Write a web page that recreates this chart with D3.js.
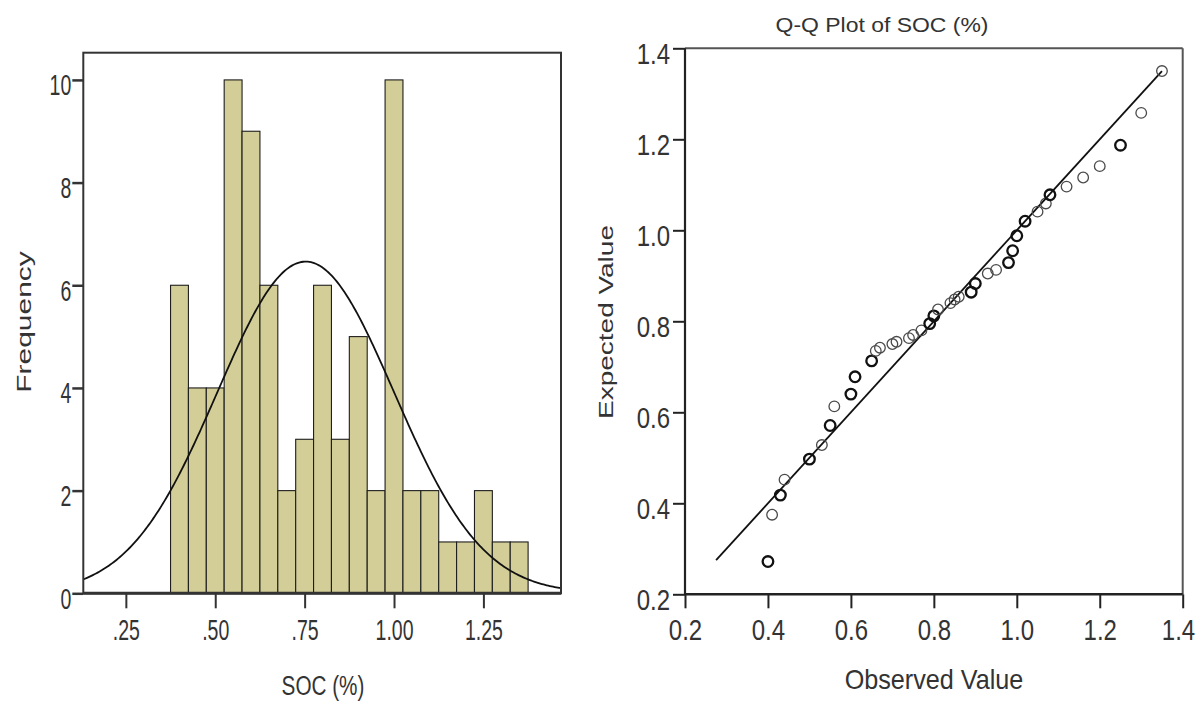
<!DOCTYPE html>
<html>
<head>
<meta charset="utf-8">
<script src="https://cdn.jsdelivr.net/npm/d3@7"></script>
<style>
  html, body { margin: 0; padding: 0; background: #fff; }
  svg { display: block; font-family: "Liberation Sans", Arial, sans-serif; }
</style>
</head>
<body>
<svg id="chart" width="1196" height="702"></svg>
<script>
// ---- Histogram of SOC (%) ----
const binLower = [0.375, 0.425, 0.475, 0.525, 0.575, 0.625, 0.675, 0.725, 0.775, 0.825,
                  0.875, 0.925, 0.975, 1.025, 1.075, 1.125, 1.175, 1.225, 1.275, 1.325];
const binWidth = 0.05;
const binCounts = [6, 4, 4, 10, 9, 6, 2, 3, 6, 3, 5, 2, 10, 2, 2, 1, 1, 2, 1, 1];
const socMean = 0.753;
const socSD = 0.247;
const histXTicks = [0.25, 0.5, 0.75, 1.0, 1.25];
const histXTickLabels = [".25", ".50", ".75", "1.00", "1.25"];
const histYTicks = [0, 2, 4, 6, 8, 10];

// ---- Normal Q-Q plot of SOC (%) ----
const observed = [0.40, 0.41, 0.43, 0.44, 0.50, 0.53, 0.55, 0.56, 0.60, 0.61,
                  0.65, 0.66, 0.67, 0.70, 0.71, 0.74, 0.75, 0.77, 0.79, 0.80,
                  0.81, 0.84, 0.85, 0.86, 0.89, 0.90, 0.93, 0.95, 0.98, 0.99,
                  1.00, 1.02, 1.05, 1.07, 1.08, 1.12, 1.16, 1.20, 1.25, 1.30, 1.35];
const expected = [0.272, 0.375, 0.418, 0.452, 0.497, 0.528, 0.571, 0.613, 0.640, 0.678,
                  0.713, 0.735, 0.742, 0.750, 0.755, 0.763, 0.770, 0.780, 0.795, 0.812,
                  0.826, 0.840, 0.848, 0.854, 0.864, 0.883, 0.905, 0.913, 0.929, 0.955,
                  0.988, 1.020, 1.041, 1.059, 1.078, 1.096, 1.116, 1.141, 1.187, 1.258, 1.350];
const tieCounts = [2, 1, 2, 1, 3, 1, 4, 1, 2, 3,
                   2, 1, 1, 1, 1, 1, 1, 1, 2, 2,
                   1, 1, 1, 1, 2, 3, 1, 1, 2, 2,
                   4, 2, 1, 1, 2, 1, 1, 1, 2, 1, 1];
const refLine = [0.275, 1.35];
const qqTicks = [0.2, 0.4, 0.6, 0.8, 1.0, 1.2, 1.4];

const svg = d3.select("#chart");
const ink = "#333";
const frameInk = "#333";

// ================= Histogram =================
const xL = d3.scaleLinear().domain([0.131, 1.467]).range([83.3, 561]);
const yL = d3.scaleLinear().domain([0, 10.53]).range([593.3, 52.7]);
const nTotal = d3.sum(binCounts);

svg.append("defs").append("clipPath").attr("id", "histClip")
  .append("rect")
  .attr("x", xL.range()[0]).attr("y", yL.range()[1])
  .attr("width", xL.range()[1] - xL.range()[0])
  .attr("height", yL.range()[0] - yL.range()[1]);

const gHist = svg.append("g");

gHist.selectAll("rect.bar")
  .data(binCounts)
  .join("rect")
  .attr("class", "bar")
  .attr("x", (d, i) => xL(binLower[i]))
  .attr("width", (d, i) => xL(binLower[i] + binWidth) - xL(binLower[i]))
  .attr("y", d => yL(d))
  .attr("height", d => yL(0) - yL(d))
  .attr("fill", "#d3ce97")
  .attr("stroke", "#1e1e1e")
  .attr("stroke-width", 1.1);

// fitted normal curve, scaled to the counts
const pdf = x => Math.exp(-0.5 * ((x - socMean) / socSD) ** 2) / (socSD * Math.sqrt(2 * Math.PI));
const curveX = d3.range(0, 301).map(i => xL.domain()[0] + (xL.domain()[1] - xL.domain()[0]) * i / 300);
gHist.append("path")
  .datum(curveX)
  .attr("clip-path", "url(#histClip)")
  .attr("fill", "none")
  .attr("stroke", "#111")
  .attr("stroke-width", 1.8)
  .attr("d", d3.line().x(d => xL(d)).y(d => yL(nTotal * binWidth * pdf(d))));

// frame
gHist.append("rect")
  .attr("x", xL.range()[0]).attr("y", yL.range()[1])
  .attr("width", xL.range()[1] - xL.range()[0])
  .attr("height", yL.range()[0] - yL.range()[1])
  .attr("fill", "none").attr("stroke", frameInk).attr("stroke-width", 2);
gHist.append("line")
  .attr("x1", xL.range()[0]).attr("x2", xL.range()[1])
  .attr("y1", yL(0)).attr("y2", yL(0))
  .attr("stroke", frameInk).attr("stroke-width", 3);

// axes
const sxL = 0.65;
const axHX = gHist.append("g")
  .attr("transform", `translate(0,${yL(0)})`)
  .call(d3.axisBottom(xL).tickValues(histXTicks)
        .tickFormat((d, i) => histXTickLabels[i]).tickSize(15));
axHX.select(".domain").remove();
axHX.selectAll(".tick line").attr("stroke", frameInk).attr("stroke-width", 2);
axHX.selectAll(".tick text")
  .attr("fill", ink).attr("font-size", 30)
  .attr("y", 46.7).attr("dy", 0)
  .attr("transform", `scale(${sxL},1)`);

const axHY = gHist.append("g")
  .attr("transform", `translate(${xL.range()[0]},0)`)
  .call(d3.axisLeft(yL).tickValues(histYTicks).tickFormat(d3.format("d")).tickSize(11));
axHY.select(".domain").remove();
axHY.selectAll(".tick line").attr("stroke", frameInk).attr("stroke-width", 2.5);
axHY.selectAll(".tick text")
  .attr("fill", ink).attr("font-size", 30)
  .attr("x", -12 / sxL).attr("y", 15).attr("dy", 0)
  .attr("transform", `scale(${sxL},1)`);

// axis titles
svg.append("text")
  .attr("transform", "translate(323,695) scale(0.74,1)")
  .attr("text-anchor", "middle").attr("font-size", 28).attr("fill", ink)
  .text("SOC (%)");
svg.append("text")
  .attr("transform", "translate(31,322) rotate(-90) scale(1,0.65)")
  .attr("text-anchor", "middle").attr("font-size", 30).attr("fill", ink)
  .text("Frequency");

// ================= Q-Q plot =================
const xR = d3.scaleLinear().domain([0.2, 1.4]).range([685, 1182.7]);
const yR = d3.scaleLinear().domain([0.2, 1.4]).range([594.3, 48.3]);
const gQQ = svg.append("g");

// frame: top and right lighter, axes darker
gQQ.append("line")
  .attr("x1", xR.range()[0]).attr("x2", xR.range()[1])
  .attr("y1", yR.range()[1]).attr("y2", yR.range()[1])
  .attr("stroke", "#555").attr("stroke-width", 2);
gQQ.append("line")
  .attr("x1", xR.range()[1]).attr("x2", xR.range()[1])
  .attr("y1", yR.range()[1]).attr("y2", yR.range()[0])
  .attr("stroke", "#555").attr("stroke-width", 2);
gQQ.append("line")
  .attr("x1", xR.range()[0]).attr("x2", xR.range()[0])
  .attr("y1", yR.range()[1]).attr("y2", yR.range()[0])
  .attr("stroke", "#222").attr("stroke-width", 2.2);
gQQ.append("line")
  .attr("x1", xR.range()[0]).attr("x2", xR.range()[1])
  .attr("y1", yR.range()[0]).attr("y2", yR.range()[0])
  .attr("stroke", "#222").attr("stroke-width", 2.6);

const sxR = 0.8;
const axQX = gQQ.append("g")
  .attr("transform", `translate(0,${yR.range()[0]})`)
  .call(d3.axisBottom(xR).tickValues(qqTicks).tickFormat(d3.format(".1f")).tickSize(14));
axQX.select(".domain").remove();
axQX.selectAll(".tick line").attr("stroke", "#222").attr("stroke-width", 2);
axQX.selectAll(".tick text")
  .attr("fill", ink).attr("font-size", 30)
  .attr("y", 45.7).attr("dy", 0)
  .attr("transform", `scale(${sxR},1)`);
// keep the last label inside the right edge of the page
axQX.selectAll(".tick text").filter((d, i, n) => i === n.length - 1)
  .attr("text-anchor", "end").attr("x", 12 / sxR);

const axQY = gQQ.append("g")
  .attr("transform", `translate(${xR.range()[0]},0)`)
  .call(d3.axisLeft(yR).tickValues(qqTicks).tickFormat(d3.format(".1f")).tickSize(12));
axQY.select(".domain").remove();
axQY.selectAll(".tick line").attr("stroke", "#222").attr("stroke-width", 2);
axQY.selectAll(".tick text")
  .attr("fill", ink).attr("font-size", 30)
  .attr("x", -15 / sxR).attr("y", 15.5).attr("dy", 0)
  .attr("transform", `scale(${sxR},1)`);

// reference line
gQQ.append("line")
  .attr("x1", xR(refLine[0])).attr("y1", yR(refLine[0]))
  .attr("x2", xR(refLine[1])).attr("y2", yR(refLine[1]))
  .attr("stroke", "#111").attr("stroke-width", 1.8);

// points
gQQ.selectAll("circle.pt")
  .data(observed)
  .join("circle")
  .attr("class", "pt")
  .attr("cx", d => xR(d))
  .attr("cy", (d, i) => yR(expected[i]))
  .attr("r", 5.3)
  .attr("fill", "none")
  .attr("stroke", (d, i) => tieCounts[i] > 1 ? "#111" : "#4a4a4a")
  .attr("stroke-width", (d, i) => tieCounts[i] > 1 ? 2.3 : 1.3);

// titles
svg.append("text")
  .attr("transform", "translate(882,31.7) scale(1.12,1)")
  .attr("text-anchor", "middle").attr("font-size", 20.5).attr("fill", ink)
  .text("Q-Q Plot of SOC (%)");
svg.append("text")
  .attr("transform", "translate(934,689) scale(0.9,1)")
  .attr("text-anchor", "middle").attr("font-size", 28).attr("fill", ink)
  .text("Observed Value");
svg.append("text")
  .attr("transform", "translate(613,322) rotate(-90) scale(1,0.75)")
  .attr("text-anchor", "middle").attr("font-size", 28).attr("fill", ink)
  .text("Expected Value");
</script>
</body>
</html>
